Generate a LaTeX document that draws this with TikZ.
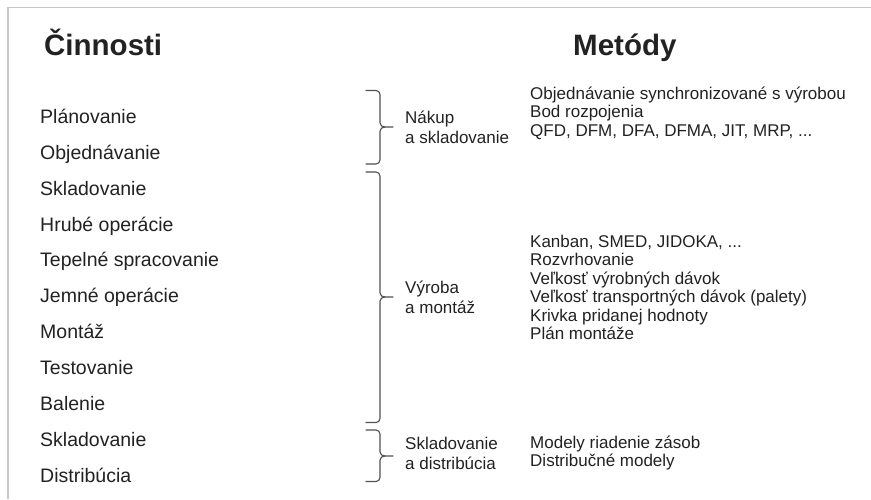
\documentclass[tikz,border=0pt]{standalone}
\usepackage{fontspec}
\setmainfont{Liberation Sans}
\definecolor{txt}{HTML}{222222}
\definecolor{brc}{HTML}{505050}
\definecolor{frm}{HTML}{C8C8C8}
\newcommand\mybrace[3]{% top, tip, bottom
  \draw[bracestyle] (366,#1) -- (376,#1) to[out=0,in=90] (380,#1+4) -- (380,#2-4)
    to[out=-90,in=180] (385,#2) -- (393,#2);
  \draw[bracestyle] (385,#2) to[out=180,in=90] (380,#2+4) -- (380,#3-4)
    to[out=-90,in=0] (376,#3) -- (366,#3);}
\begin{document}
\begin{tikzpicture}[x=1pt,y=-1pt,
  title/.style={anchor=base west,inner sep=0pt,font=\fontsize{29.5}{32}\selectfont\bfseries,text=txt},
  item/.style={anchor=base west,inner sep=0pt,font=\fontsize{19.5}{22}\selectfont,text=txt},
  meth/.style={anchor=base west,inner sep=0pt,font=\fontsize{17}{19}\selectfont,text=txt},
  grp/.style={anchor=base west,inner sep=0pt,font=\fontsize{17}{19}\selectfont,text=txt},
  bracestyle/.style={draw=brc,line width=1.1pt,line cap=round,line join=round}]
\useasboundingbox (0,0) rectangle (871,499);
\fill[white] (0,0) rectangle (871,499);
\draw[frm,line width=1.6pt] (8,499) -- (8,7.5) -- (871,7.5);

\node[title] (t1) at (44,55) {Činnosti};
\node[title] (t2) at (573,55) {Metódy};

\foreach \t [count=\i from 0] in {Plánovanie,Objednávanie,Skladovanie,Hrubé operácie,Tepelné spracovanie,Jemné operácie,Montáž,Testovanie,Balenie,Skladovanie,Distribúcia}
  \node[item] (a\i) at (40,123.3+35.9*\i) {\t};

\mybrace{90.5}{127}{164}
\mybrace{172}{297}{422.5}
\mybrace{430}{456}{481.5}

\node[grp] (g1a) at (405,123.5) {Nákup};
\node[grp] (g1b) at (405,143.5) {a skladovanie};
\node[grp] (g2a) at (405,293.3) {Výroba};
\node[grp] (g2b) at (405,313) {a montáž};
\node[grp] (g3a) at (405,449.3) {Skladovanie};
\node[grp] (g3b) at (405,469.3) {a distribúcia};

\node[meth] (m1) at (530,99) {Objednávanie synchronizované s výrobou};
\node[meth] (m2) at (530,117.5) {Bod rozpojenia};
\node[meth] (m3) at (530,136) {QFD, DFM, DFA, DFMA, JIT, MRP, ...};

\node[meth] (m4) at (530,247) {Kanban, SMED, JIDOKA, ...};
\node[meth] (m5) at (530,265.5) {Rozvrhovanie};
\node[meth] (m6) at (530,284) {Veľkosť výrobných dávok};
\node[meth] (m7) at (530,302.5) {Veľkosť transportných dávok (palety)};
\node[meth] (m8) at (530,321) {Krivka pridanej hodnoty};
\node[meth] (m9) at (530,339.5) {Plán montáže};

\node[meth] (m10) at (530,448) {Modely riadenie zásob};
\node[meth] (m11) at (530,466.5) {Distribučné modely};
\end{tikzpicture}
\end{document}
